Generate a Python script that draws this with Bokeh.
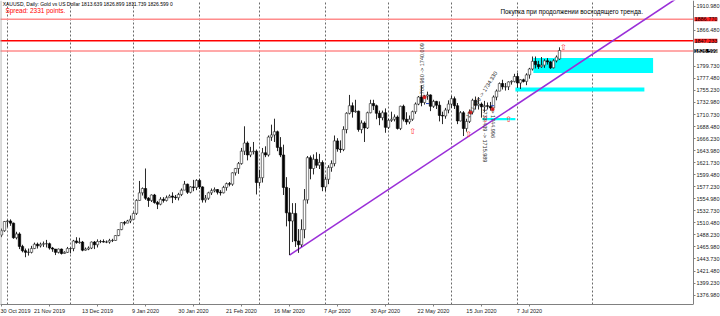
import numpy as np
from math import pi
from bokeh.plotting import figure
from bokeh.models import Range1d, FixedTicker, Label, PrintfTickFormatter, Span
from bokeh.core.properties import value
from bokeh.embed import file_html
from bokeh.resources import INLINE

# ---------------- data ----------------
opens = [1488,1496,1513,1514,1510,1483,1490,1467,1459,1456,1456,1463,1471,1468,1471,1472,1472,1464,1462,1456,
         1462,1454,1456,1463,1463,1477,1474,1475,1460,1462,1464,1475,1470,1476,1476,1475,1475,1478,1478,1487,
         1498,1511,1510,1514,1517,1528,1552,1566,1574,1556,1552,1562,1548,1545,1554,1552,1557,1560,1558,1557,
         1563,1571,1582,1567,1577,1576,1589,1577,1553,1556,1566,1570,1572,1567,1566,1576,1583,1582,1603,1611,
         1620,1643,1658,1636,1642,1643,1585,1594,1640,1636,1669,1673,1679,1650,1636,1576,1529,1514,1528,1477,
         1470,1498,1553,1631,1611,1628,1617,1622,1577,1591,1613,1620,1662,1647,1646,1683,1713,1727,1716,1717,
         1683,1695,1686,1714,1731,1727,1713,1705,1714,1687,1700,1702,1706,1685,1726,1702,1697,1702,1716,1730,
         1743,1733,1745,1747,1726,1735,1728,1709,1708,1719,1730,1740,1727,1699,1714,1685,1698,1715,1737,1728,
         1730,1725,1727,1726,1723,1743,1754,1768,1762,1762,1771,1772,1781,1769,1775,1772,1784,1795,1809,1803,
         1799,1802,1810,1808,1797,1810,1813.6]
highs = [1500,1514,1516,1517,1511,1494,1493,1470,1463,1463,1468,1474,1474,1474,1476,1479,1474,1466,1462,1463,
         1463,1458,1466,1465,1479,1484,1483,1477,1465,1467,1476,1477,1480,1479,1480,1478,1481,1481,1488,1499,
         1512,1514,1516,1524,1530,1554,1588,1576,1611,1558,1563,1564,1551,1558,1558,1561,1563,1567,1562,1566,
         1574,1588,1583,1578,1590,1591,1592,1578,1562,1568,1574,1576,1573,1571,1579,1585,1586,1604,1612,1623,
         1649,1689,1661,1651,1660,1646,1609,1649,1652,1672,1692,1703,1681,1669,1655,1595,1575,1547,1547,1499,
         1517,1573,1634,1635,1637,1641,1638,1626,1596,1617,1626,1672,1667,1663,1689,1715,1747,1733,1738,1718,
         1700,1698,1716,1738,1738,1729,1718,1718,1722,1703,1716,1711,1709,1727,1729,1715,1709,1718,1733,1745,
         1765,1747,1753,1748,1738,1736,1735,1716,1723,1737,1745,1744,1732,1717,1717,1703,1720,1740,1744,1743,
         1733,1736,1733,1734,1746,1757,1770,1775,1769,1772,1774,1786,1788,1776,1777,1787,1797,1818,1818,1810,
         1817,1813,1815,1810,1813,1820,1835]
lows = [1484,1494,1503,1505,1481,1480,1462,1456,1447,1450,1454,1462,1463,1465,1466,1465,1461,1457,1451,1454,
        1452,1453,1455,1454,1458,1472,1472,1458,1459,1460,1462,1462,1465,1473,1474,1473,1472,1475,1477,1486,
        1497,1506,1510,1510,1517,1525,1551,1561,1553,1540,1549,1546,1536,1543,1548,1550,1557,1547,1553,1552,
        1560,1571,1564,1565,1569,1571,1573,1548,1548,1553,1562,1567,1563,1561,1565,1570,1578,1579,1598,1601,
        1618,1636,1626,1632,1637,1563,1578,1585,1632,1633,1662,1660,1643,1632,1562,1504,1451,1475,1466,1455,
        1466,1482,1546,1591,1600,1612,1610,1569,1569,1582,1605,1615,1642,1640,1643,1676,1711,1705,1714,1679,
        1676,1660,1684,1713,1719,1702,1691,1700,1677,1684,1697,1698,1683,1682,1698,1692,1693,1699,1712,1728,
        1726,1729,1738,1717,1723,1721,1698,1693,1703,1713,1723,1721,1693,1698,1671,1679,1695,1711,1720,1720,
        1705,1715,1720,1718,1721,1737,1754,1757,1755,1756,1766,1770,1760,1758,1770,1765,1777,1792,1796,1795,
        1797,1797,1803,1795,1796,1807,1811.7]
closes = [1496,1513,1514,1510,1483,1490,1467,1459,1456,1456,1463,1471,1468,1471,1472,1472,1464,1462,1456,1462,
          1454,1456,1463,1463,1477,1474,1475,1460,1462,1464,1475,1470,1476,1476,1475,1475,1478,1478,1487,1498,
          1511,1510,1514,1517,1528,1552,1566,1574,1556,1552,1562,1548,1545,1554,1552,1557,1560,1558,1557,1563,
          1571,1582,1567,1577,1576,1589,1577,1553,1556,1566,1570,1572,1567,1566,1576,1583,1582,1603,1611,1620,
          1643,1658,1636,1642,1643,1585,1594,1640,1636,1669,1673,1679,1650,1636,1576,1529,1514,1528,1477,1470,
          1498,1553,1631,1611,1628,1617,1622,1577,1591,1613,1620,1662,1647,1646,1683,1713,1727,1716,1717,1683,
          1695,1686,1714,1731,1727,1713,1705,1714,1687,1700,1702,1706,1685,1726,1702,1697,1702,1716,1730,1743,
          1733,1745,1747,1726,1735,1728,1709,1708,1719,1730,1740,1727,1699,1714,1685,1698,1715,1737,1728,1730,
          1725,1727,1726,1723,1743,1754,1768,1762,1762,1771,1772,1781,1769,1775,1772,1784,1795,1809,1803,1799,
          1802,1810,1808,1797,1810,1817,1829]

x_tick_idx = [0, 16, 32, 48, 64, 80, 96, 112, 128, 144, 160, 176]
x_tick_labels = ["30 Oct 2019", "21 Nov 2019", "13 Dec 2019", "9 Jan 2020", "30 Jan 2020", "21 Feb 2020",
                 "16 Mar 2020", "7 Apr 2020", "30 Apr 2020", "22 May 2020", "15 Jun 2020", "7 Jul 2020"]
month_grid_idx = [2, 23, 44, 66, 86, 108, 129, 150, 172, 197]
y_ticks = [1376.98, 1399.23, 1421.48, 1443.73, 1465.98, 1488.23, 1510.48, 1532.73, 1554.98, 1577.23,
           1599.48, 1621.73, 1643.98, 1666.23, 1688.48, 1710.73, 1732.98, 1755.23, 1777.48, 1799.73,
           1866.48, 1910.98]

hlines_price = [1886.77, 1847.23, 1828.2]
hlines_color = ["#ff8c8c", "#ff0000", "#ff8c8c"]
price_labels = ["1886.770", "1847.233", "1826.599"]
price_label_bg = ["#ff2020", "#ff2020", "#000000"]
price_label_fg = ["#000000", "#000000", "#ffffff"]

zones_left = [177.3, 171.3, 160.3]
zones_right = [217.2, 214.3, 171.3]
zones_top = [1815.4, 1760.7, 1704.5]
zones_bottom = [1787.7, 1753.3, 1700.0]

trend_idx = [96, 224]
trend_price = [1451.0, 1921.5]

arrow_idx = [137.0, 155.7, 161.3, 169.0, 187.3]
arrow_price = [1679.9, 1674.4, 1702.0, 1702.0, 1835.5]

header = "XAUUSD, Daily:  Gold vs US Dollar  1813.639 1826.899 1811.739 1826.599  0"
spread = "Spread: 2331 points."
comment = "Покупка при продолжении восходящего тренда."

# ---------------- figure ----------------
n = len(closes)
idx = np.arange(n)
o = np.array(opens, float); h = np.array(highs, float)
l = np.array(lows, float); c = np.array(closes, float)
inc = c >= o

AXIS_X = 230.67          # chart edge (bar units) where the price scale sits
p = figure(width=720, height=316, x_range=Range1d(-0.33, 239.67), y_range=Range1d(1359.6, 1921.5),
           y_axis_location="right", toolbar_location=None, output_backend="svg",
           min_border_left=0, min_border_top=0, min_border_right=0, min_border_bottom=0,
           background_fill_color="white", border_fill_color="white")
p.outline_line_color = None
p.add_layout(Span(location=-0.2, dimension="height", line_color="#9a9a9a", line_width=1))

p.ygrid.visible = False
p.xgrid.ticker = FixedTicker(ticks=month_grid_idx)
p.xgrid.grid_line_color = "#6a6a6a"
p.xgrid.grid_line_dash = "2 2"
p.xgrid.grid_line_width = 1

p.xaxis.ticker = FixedTicker(ticks=x_tick_idx)
p.xaxis.major_label_overrides = {k: v for k, v in zip(x_tick_idx, x_tick_labels)}
p.xaxis.bounds = (-0.33, AXIS_X)
p.yaxis.ticker = FixedTicker(ticks=y_ticks)
p.yaxis.formatter = PrintfTickFormatter(format="%.3f")
p.yaxis.fixed_location = AXIS_X
for ax in (p.xaxis[0], p.yaxis[0]):
    ax.major_label_text_font = "Liberation Sans"
    ax.major_label_text_font_size = "5.5px"
    ax.major_label_text_color = "#222222"
    ax.axis_line_color = "#808080"
    ax.major_tick_line_color = "#808080"
    ax.major_tick_out = 2
    ax.major_tick_in = 0
    ax.minor_tick_out = 0
    ax.minor_tick_in = 0
    ax.major_label_standoff = 1
p.xaxis.major_label_text_align = "left"

# zones
p.quad(left=zones_left, right=zones_right, top=zones_top, bottom=zones_bottom,
       fill_color="#00ffff", line_color=None)

# horizontal lines
for pr, col in zip(hlines_price, hlines_color):
    p.line(x=[-5, AXIS_X], y=[pr, pr], line_color=col, line_width=1.6)

# trend line (extended up to the top edge)
slope = (trend_price[1] - trend_price[0]) / (trend_idx[1] - trend_idx[0])
x_end = trend_idx[1] + 4
p.line(x=[trend_idx[0], x_end], y=[trend_price[0], trend_price[0] + slope * (x_end - trend_idx[0])],
       line_color="#9a2fd8", line_width=1.6)

# candles
p.segment(x0=idx, y0=h, x1=idx, y1=l, line_color="#111111", line_width=0.9)
p.vbar(x=idx[inc], width=0.8, top=c[inc], bottom=o[inc], fill_color="white",
       line_color="#222222", line_width=0.6)
p.vbar(x=idx[~inc], width=0.8, top=o[~inc], bottom=c[~inc], fill_color="black",
       line_color="black", line_width=0.6)

# arrows
p.text(x=arrow_idx, y=arrow_price, text=["⇧"] * len(arrow_idx), text_color="#ff3030",
       text_font=value("DejaVu Sans"), text_font_size=value("8px"),
       text_align="center", text_baseline="middle")

# small markers
p.scatter(x=[141.0, 156.3, 163.7], y=[1742.8, 1714.5, 1720.5], size=3, color="#e02020")
p.scatter(x=[142.0, 163.7], y=[1731.0, 1727.0], size=3, marker="dash", color="#2040c0")

# rotated annotations
ann_font = value("Liberation Sans")
p.text(x=[140.2], y=[1742.7], text=["1706.960 -> 1740.009"], angle=[pi / 2],
       text_font=ann_font, text_font_size=value("5.5px"), text_color="#303030",
       text_align="left", text_baseline="middle")
p.text(x=[155.3], y=[1705.8], text=["1711.990 -> 1734.330"], angle=[1.01],
       text_font=ann_font, text_font_size=value("5.5px"), text_color="#303030",
       text_align="left", text_baseline="middle")
p.text(x=[161.3, 163.7], y=[1722.0, 1722.0], text=["1733.439 -> 1715.989", "-> 1744.996"],
       angle=[-pi / 2, -pi / 2], text_font=ann_font, text_font_size=value("5.5px"),
       text_color="#303030", text_align="left", text_baseline="middle")

# texts
p.add_layout(Label(x=0.4, y=1914.3, text=header, text_font="Liberation Sans", text_font_size="5px",
                   text_color="#000000", text_baseline="middle"))
p.add_layout(Label(x=1.3, y=1902.3, text=spread, text_font="Liberation Sans", text_font_size="6.5px",
                   text_color="#ff0000", text_baseline="middle"))
p.add_layout(Label(x=166.3, y=1902.0, text=comment, text_font="Liberation Sans", text_font_size="6.4px",
                   text_color="#000000", text_baseline="middle"))

for pr, txt, bg, fg in zip(hlines_price, price_labels, price_label_bg, price_label_fg):
    p.add_layout(Label(x=AXIS_X + 0.3, y=pr, text=txt, text_font="Liberation Sans",
                       text_font_size="5.5px", text_color=fg, background_fill_color=bg,
                       text_baseline="middle", level="overlay"))

open("out.html", "w").write(file_html(p, INLINE))
